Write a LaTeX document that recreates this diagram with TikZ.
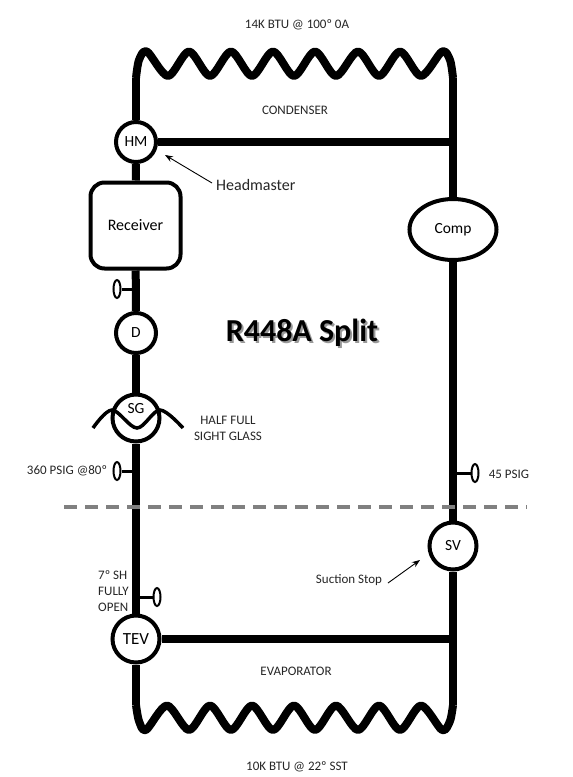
\documentclass[tikz,border=0pt]{standalone}
\usepackage{fontspec}
\setmainfont{Carlito}
\usetikzlibrary{arrows.meta,shapes.geometric}

\begin{document}
\begin{tikzpicture}[x=1pt,y=-1pt,>=Stealth,
pipe/.style={line width=8pt},
valve/.style={circle,draw,line width=4pt,fill=white,inner sep=0pt,font=\fontsize{15.5}{15.5}\selectfont},
gauge/.style={ellipse,draw,line width=2pt,fill=white,inner sep=0pt,minimum width=7pt,minimum height=18pt},
stub/.style={line width=3pt},
lbl/.style={font=\fontsize{13}{16}\selectfont,text=black!85,align=center,inner sep=0pt},
note/.style={-{Stealth[length=8pt,width=6pt]},line width=0.9pt}]
\useasboundingbox (0,0) rectangle (573,777);
\fill[white] (0,0) rectangle (573,777);

\node[valve,minimum size=40pt] (HM) at (136,142) {HM};
\node[draw,line width=4pt,rounded corners=14pt,minimum width=90pt,minimum height=86pt,font=\fontsize{16}{16}\selectfont] (Receiver) at (135.5,225.5) {\raisebox{-1.5pt}{Receiver}};
\node[valve,minimum size=40pt] (D) at (136,333) {D};
\node[valve,minimum size=47pt] (SG) at (136,418) {};
\node[valve,minimum size=47pt,font=\fontsize{17}{17}\selectfont] (TEV) at (136,639) {TEV};
\node[valve,minimum size=47pt] (SV) at (453,546) {\raisebox{-1pt}{SV}};
\node[ellipse,draw,line width=4pt,inner sep=0pt,minimum width=87pt,minimum height=61pt,font=\fontsize{15.5}{15.5}\selectfont] (Comp) at (453,229.5) {\raisebox{-1pt}{Comp}};

\coordinate (CondIn) at (453,142);
\coordinate (EvapOut) at (453,639);
\coordinate (LeftTop) at (136,78);
\coordinate (RightTop) at (453,78);
\coordinate (LeftBot) at (136,705);
\coordinate (RightBot) at (453,705);

\draw[pipe] (HM) -- (LeftTop);
\draw[pipe] (RightTop) -- (Comp);
\draw[pipe] (HM) -- (CondIn);
\draw[pipe] (HM) -- (Receiver);
\draw[pipe] (Receiver) -- (D);
\draw[pipe] (D) -- (SG);
\draw[pipe] (SG) -- (TEV);
\draw[pipe] (TEV) -- (LeftBot);
\draw[pipe] (Comp) -- (SV);
\draw[pipe] (SV) -- (RightBot);
\draw[pipe] (TEV) -- (EvapOut);

\draw[pipe,line join=round] plot[smooth,tension=0.5] coordinates {(136,78)(139,60)(147,51.5)(168,76)(189,51.5)(210,76)(231,51.5)(252,76)(273,51.5)(294,76)(315,51.5)(336,76)(358,51.5)(379,76)(400,51.5)(421,76)(442,51.5)(450,60)(453,78)};
\draw[pipe,line join=round] plot[smooth,tension=0.5] coordinates {(136,705)(139,721)(146,730)(167,705.5)(189,730)(210,705.5)(231,730)(252,705.5)(273,730)(294,705.5)(315,730)(336,705.5)(358,730)(379,705.5)(400,730)(421,705.5)(442,730)(450,721)(453,705)};

\node[font=\fontsize{15.5}{15.5}\selectfont] (SGtext) at (136,409) {SG};
\draw[line width=3.5pt] plot[smooth,tension=0.55] coordinates {(93,428)(112,410)(137,428)(160,410)(183,428)};

\node[gauge] (GaugeA) at (117,289) {};
\node[gauge] (GaugeB) at (117,471) {};
\node[gauge] (GaugeC) at (157,597) {};
\node[gauge] (GaugeD) at (475,473) {};
\coordinate (TapA) at (136,289);
\coordinate (TapB) at (136,471);
\coordinate (TapC) at (136,597);
\coordinate (TapD) at (453,473);
\draw[stub] (TapA) -- (GaugeA);
\draw[stub] (TapB) -- (GaugeB);
\draw[stub] (TapC) -- (GaugeC);
\draw[stub] (TapD) -- (GaugeD);

\coordinate (DashL) at (64,507);
\coordinate (DashR) at (527,507);
\draw[line width=3.5pt,black!50,dash pattern=on 12.5pt off 8.5pt] (DashL) -- (DashR);

\node[lbl] (Top) at (297,25) {14K BTU @ 100º 0A};
\node[lbl] (Cond) at (295,110) {CONDENSER};
\node[lbl] (Evap) at (296,671) {EVAPORATOR};
\node[lbl] (Bot) at (297,767) {10K BTU @ 22º SST};
\node[lbl] (Half) at (228,428) {HALF  FULL\\SIGHT GLASS};
\node[lbl] (High) at (67,471) {360 PSIG @80º};
\node[lbl] (Low) at (509,474) {45 PSIG};
\node[lbl,align=left,anchor=west] (Sh) at (98,591) {7º SH\\FULLY\\OPEN};
\node[lbl,font=\fontsize{16}{16}\selectfont,anchor=west] (Head) at (216,185) {Headmaster};
\node[lbl] (Stop) at (349,580) {Suction Stop};

\coordinate (HeadTail) at (212,183);
\coordinate (HeadTip) at (165,155);
\coordinate (StopTail) at (388,583);
\coordinate (StopTip) at (420,560);
\draw[note] (HeadTail) -- (HeadTip);
\draw[note] (StopTail) -- (StopTip);

\node[font=\bfseries\fontsize{32}{32}\selectfont] (Title) at (302,334) {\rlap{\kern2pt\raisebox{-2pt}{\textcolor{black!40}{R448A Split}}}R448A Split};
\end{tikzpicture}
\end{document}
